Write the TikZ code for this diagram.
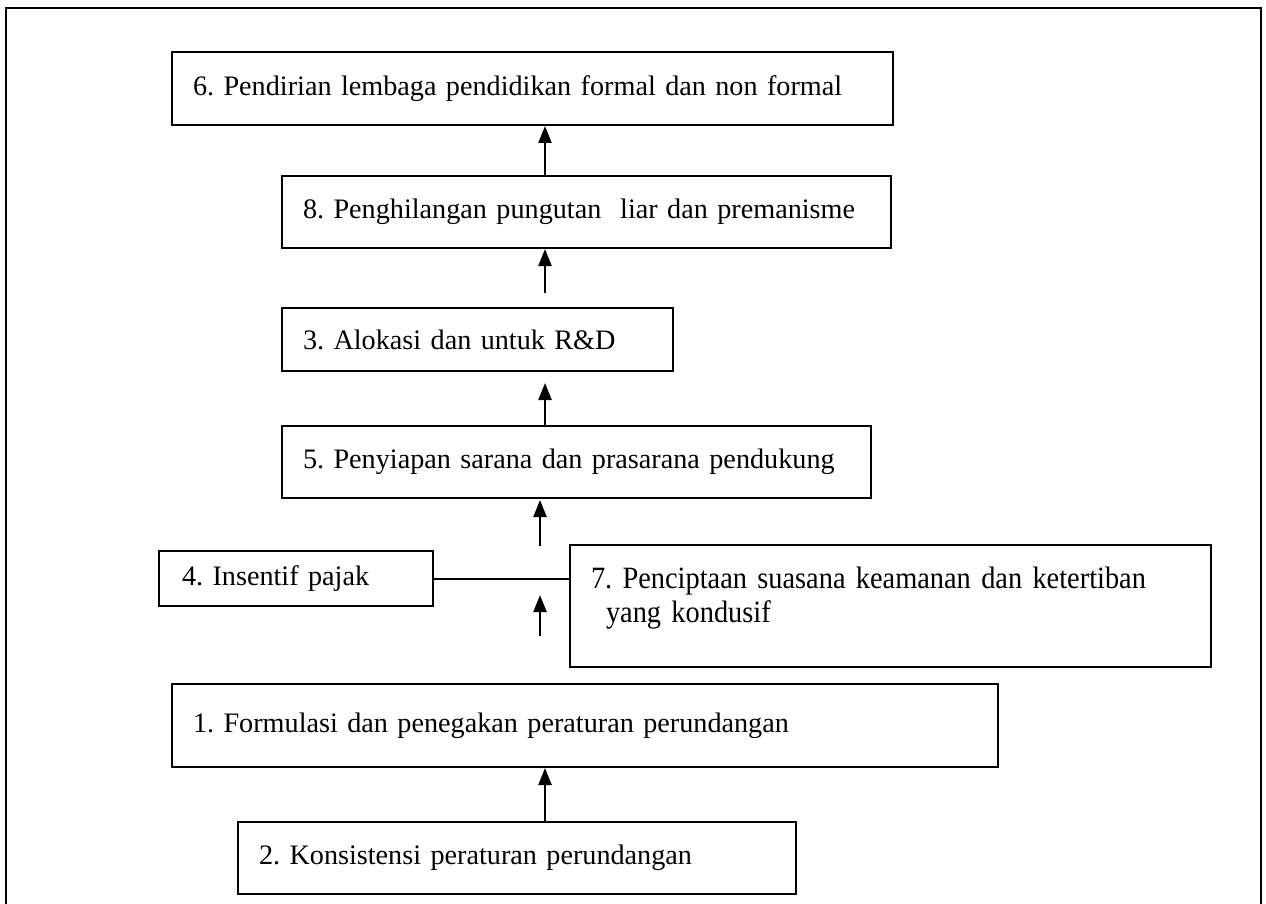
\documentclass[tikz,border=0pt]{standalone}
\usepackage{fontspec}
\setmainfont{Liberation Serif}
\usetikzlibrary{arrows.meta}

\newfontfamily\narrowfont[FakeStretch=0.915]{Liberation Serif}
\frenchspacing

\tikzset{
  stepbox/.style={draw, rectangle, line width=2pt, anchor=north west, inner xsep=21pt,
    align=left, font=\fontsize{28.2}{34}\selectfont},
  uparrow/.style={line width=2.4pt, -{Triangle[length=17pt,width=13pt]}},
}

\begin{document}
\begin{tikzpicture}[x=1pt, y=-1pt]
  \useasboundingbox (0,0) rectangle (1266,904);

  % outer frame, open at the bottom
  \draw[line width=2.4pt] (6,920) -- (6,8) -- (1261,8) -- (1261,920);

  \node[stepbox, minimum width=721pt, minimum height=73pt, text width=679pt] (pendirian) at (171,51) {\mbox{6. Pendirian lembaga pendidikan formal dan non formal}};
  \node[stepbox, minimum width=609pt, minimum height=72pt, text width=567pt] (pungli) at (281,175) {\mbox{8. Penghilangan pungutan\ \ liar dan premanisme}};
  \node[stepbox, minimum width=391pt, minimum height=63pt, text width=349pt] (alokasi) at (281,307) {\mbox{3. Alokasi dan untuk R\&D}};
  \node[stepbox, minimum width=589pt, minimum height=72pt, text width=547pt] (sarana) at (281,425) {\mbox{5. Penyiapan sarana dan prasarana pendukung}};
  \node[stepbox, minimum width=274pt, minimum height=55pt, text width=228pt, inner xsep=23pt] (pajak) at (158,550) {\mbox{4. Insentif pajak}};
  \node[stepbox, minimum width=641pt, minimum height=122pt, text width=599pt, font=\narrowfont\fontsize{31}{34}\selectfont] (keamanan) at (569,544) {\mbox{7. Penciptaan suasana keamanan dan ketertiban}\\\hspace*{15pt}yang kondusif\\[-12pt]\mbox{}};
  \node[stepbox, minimum width=826pt, minimum height=83pt, text width=784pt] (formulasi) at (171,683) {\mbox{1. Formulasi dan penegakan peraturan perundangan}};
  \node[stepbox, minimum width=558pt, minimum height=72pt, text width=516pt] (konsistensi) at (237,821) {\mbox{2. Konsistensi peraturan perundangan}};

  % loose arrow ends
  \coordinate (spine) at (545,0);
  \coordinate (tailA) at (545,293);
  \coordinate (tipB) at (545,383);
  \coordinate (tailC) at (540,546);
  \coordinate (tipC) at (540,500);
  \coordinate (tailD) at (540,636);
  \coordinate (tipD) at (540,595);

  \draw[uparrow] (pungli.north -| spine) -- (pendirian.south -| spine);
  \draw[uparrow] (tailA) -- (pungli.south -| spine);
  \draw[uparrow] (sarana.north -| spine) -- (tipB);
  \draw[uparrow] (tailC) -- (tipC);
  \draw[uparrow] (tailD) -- (tipD);
  \draw[line width=2pt] (pajak.east) -- (pajak.east -| keamanan.west);
  \draw[uparrow] (konsistensi.north -| spine) -- (formulasi.south -| spine);
\end{tikzpicture}
\end{document}
